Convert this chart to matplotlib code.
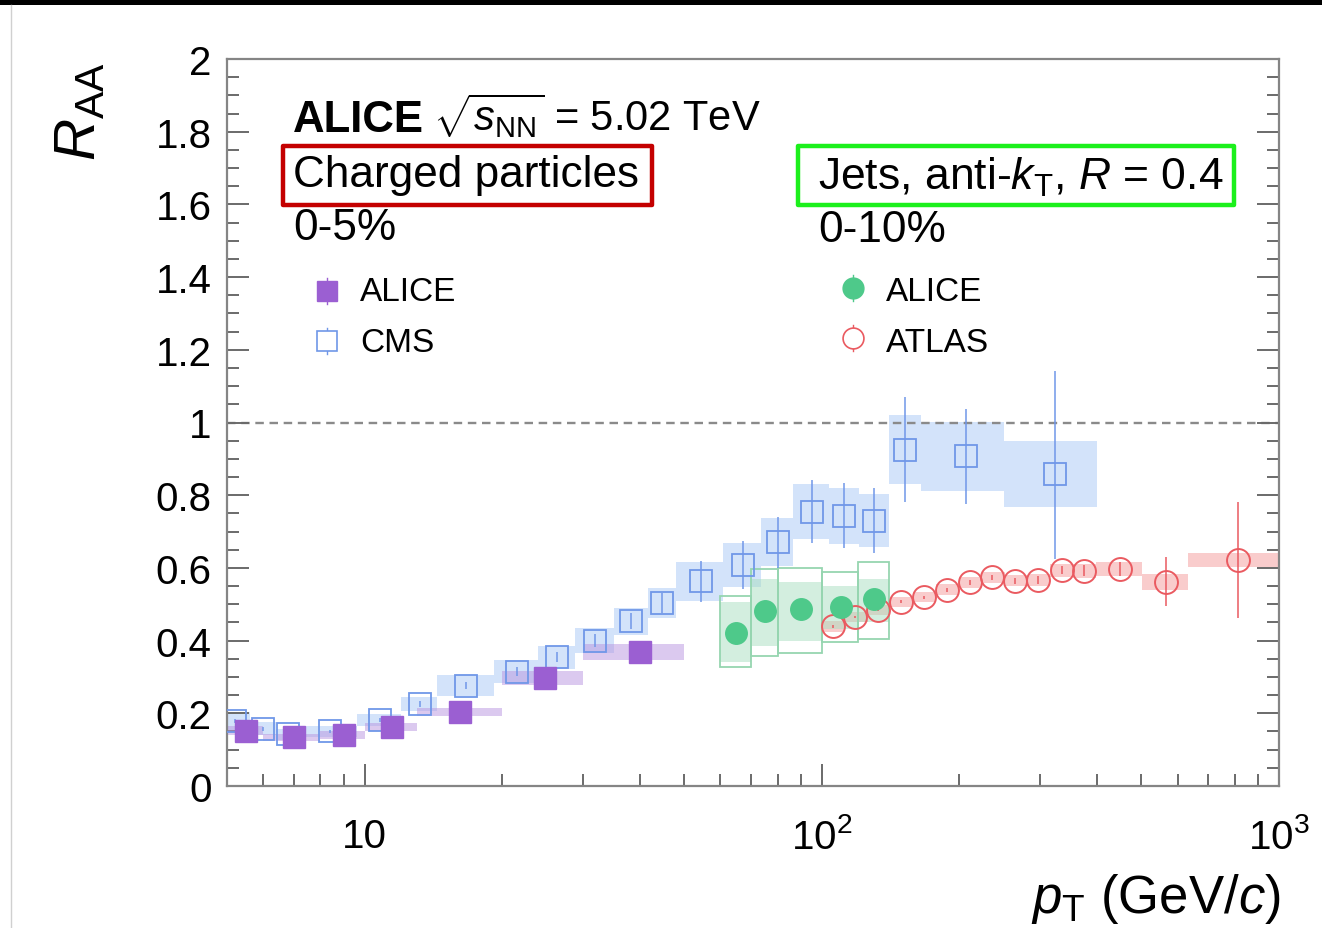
import matplotlib
matplotlib.use("Agg")
import matplotlib.pyplot as plt
from matplotlib.patches import Rectangle
from matplotlib.lines import Line2D
from matplotlib.ticker import FixedLocator, MultipleLocator, NullFormatter
import numpy as np

plt.rcParams['font.family'] = ['Liberation Sans', 'DejaVu Sans']
plt.rcParams['mathtext.fontset'] = 'custom'
plt.rcParams['mathtext.rm'] = 'Liberation Sans'
plt.rcParams['mathtext.it'] = 'Liberation Sans:italic'
plt.rcParams['mathtext.bf'] = 'Liberation Sans:bold'

# ---------------- data ----------------
# ALICE charged particles 0-5%
alice_ch_pt = [5.5, 7.0, 9.0, 11.5, 16.2, 24.8, 40.0]
alice_ch_raa = [0.152, 0.134, 0.140, 0.163, 0.204, 0.297, 0.369]
alice_ch_edges = [5, 6, 8, 10, 13, 20, 30, 50]
alice_ch_sys = [0.012, 0.010, 0.010, 0.011, 0.011, 0.018, 0.023]

# CMS charged particles 0-5%
cms_pt = [5.2, 6.0, 6.8, 8.4, 10.8, 13.2, 16.7, 21.5, 26.3, 31.9, 38.3, 44.7,
          54.5, 67.4, 80.4, 95, 112, 130, 152, 207, 324]
cms_raa = [0.178, 0.157, 0.142, 0.150, 0.182, 0.226, 0.276, 0.314, 0.354, 0.400,
           0.453, 0.503, 0.563, 0.608, 0.670, 0.755, 0.744, 0.730, 0.925, 0.907, 0.858]
cms_edges = [4.8, 5.6, 6.4, 7.2, 9.6, 12.0, 14.4, 19.2, 24.0, 28.8, 35.2, 41.6,
             48.0, 60.8, 73.6, 86.4, 103.6, 120.8, 140.0, 165.0, 250.0, 400.0]
cms_stat_lo = [0.005, 0.005, 0.005, 0.005, 0.006, 0.008, 0.010, 0.012, 0.014, 0.018,
               0.022, 0.028, 0.057, 0.066, 0.071, 0.087, 0.090, 0.090, 0.145, 0.130, 0.234]
cms_stat_hi = [0.005, 0.005, 0.005, 0.005, 0.006, 0.008, 0.010, 0.012, 0.014, 0.018,
               0.022, 0.028, 0.057, 0.066, 0.071, 0.087, 0.090, 0.090, 0.145, 0.130, 0.284]
cms_sys = [0.025, 0.018, 0.016, 0.016, 0.017, 0.020, 0.028, 0.032, 0.032, 0.035, 0.037,
           0.042, 0.054, 0.060, 0.066, 0.075, 0.077, 0.073, 0.095, 0.095, 0.090]

# ALICE jets 0-10%
jet_pt = [65, 75, 90, 110, 130]
jet_raa = [0.421, 0.482, 0.487, 0.493, 0.514]
jet_edges = [60, 70, 80, 100, 120, 140]
jet_shape_lo = [0.326, 0.358, 0.367, 0.396, 0.404]
jet_shape_hi = [0.523, 0.597, 0.600, 0.588, 0.617]
jet_corr_lo = [0.340, 0.386, 0.400, 0.432, 0.450]
jet_corr_hi = [0.505, 0.569, 0.561, 0.551, 0.570]

# ATLAS jets 0-10%
atlas_pt = [106, 118, 133, 149, 167, 188, 211, 236, 265, 297, 335, 375, 449, 565, 813]
atlas_raa = [0.439, 0.465, 0.485, 0.507, 0.519, 0.540, 0.560, 0.574, 0.565, 0.567,
             0.594, 0.592, 0.597, 0.562, 0.622]
atlas_edges = [100, 112, 126, 141, 158, 178, 200, 224, 251, 282, 316, 355, 398, 501, 631, 1000]
atlas_stat = [0.004, 0.004, 0.004, 0.004, 0.005, 0.005, 0.006, 0.007, 0.008, 0.010,
              0.012, 0.015, 0.020, 0.067, 0.160]
atlas_sys = [0.014, 0.014, 0.014, 0.014, 0.014, 0.015, 0.015, 0.016, 0.016, 0.017,
             0.018, 0.019, 0.020, 0.022, 0.020]

x_ticks = [10, 100, 1000]
x_ticklabels = ['10', r'$10^{2}$', r'$10^{3}$']
y_ticks = [0, 0.2, 0.4, 0.6, 0.8, 1, 1.2, 1.4, 1.6, 1.8, 2]
y_ticklabels = ['0', '0.2', '0.4', '0.6', '0.8', '1', '1.2', '1.4', '1.6', '1.8', '2']

# ---------------- colours ----------------
C_PURPLE = '#9b5fd2'
C_PURPLE_SYS = '#b894e0'
C_BLUE = '#7097e8'
C_BLUE_SYS = '#a9c8f6'
C_GREEN = '#4ec98a'
C_GREEN_SYS = '#a9dfc0'
C_GREEN_EDGE = '#96d5b0'
C_RED = '#ea5a60'
C_RED_SYS = '#f49a9a'

W, H = 1322, 929
fig = plt.figure(figsize=(W / 100, H / 100), dpi=100)
def fx(p): return p / W
def fy(p): return 1 - p / H

ax = fig.add_axes([fx(227), fy(787), fx(1279) - fx(227), (787 - 60) / H])
ax.set_xscale('log')
ax.set_xlim(5, 1000)
ax.set_ylim(0, 2)

def boxes(edges, lo, hi, **kw):
    e = np.asarray(edges, float)
    lo = np.asarray(lo, float); hi = np.asarray(hi, float)
    ax.bar(e[:-1], hi - lo, width=np.diff(e), bottom=lo, align='edge', **kw)

# systematic boxes
cms_r = np.asarray(cms_raa); cms_s = np.asarray(cms_sys)
boxes(cms_edges, cms_r - cms_s, cms_r + cms_s, color=C_BLUE_SYS, alpha=0.5,
      linewidth=0, zorder=1)
ach_r = np.asarray(alice_ch_raa); ach_s = np.asarray(alice_ch_sys)
boxes(alice_ch_edges, ach_r - ach_s, ach_r + ach_s, color=C_PURPLE_SYS, alpha=0.5,
      linewidth=0, zorder=2)
at_r = np.asarray(atlas_raa); at_s = np.asarray(atlas_sys)
boxes(atlas_edges, at_r - at_s, at_r + at_s, color=C_RED_SYS, alpha=0.5,
      linewidth=0, zorder=2)
boxes(jet_edges, jet_corr_lo, jet_corr_hi, color=C_GREEN_SYS, alpha=0.5,
      linewidth=0, zorder=2)
boxes(jet_edges, jet_shape_lo, jet_shape_hi, facecolor='none', edgecolor=C_GREEN_EDGE,
      linewidth=1.3, zorder=3)

ax.axhline(1.0, color='#8a8a8a', lw=1.7, ls=(0, (3.6, 2.4)), zorder=1.5)

# points
ax.errorbar(cms_pt, cms_raa, yerr=[cms_stat_lo, cms_stat_hi], fmt='s', ms=16.5,
            mfc='none', mec=C_BLUE, mew=1.3, ecolor=C_BLUE, elinewidth=1.1,
            capsize=0, zorder=4)
ax.errorbar(atlas_pt, atlas_raa, yerr=atlas_stat, fmt='o', ms=16.5,
            mfc='none', mec=C_RED, mew=1.4, ecolor=C_RED, elinewidth=1.1,
            capsize=0, zorder=4)
ax.plot(alice_ch_pt, alice_ch_raa, 's', ms=16, color=C_PURPLE, mec=C_PURPLE, zorder=5)
ax.plot(jet_pt, jet_raa, 'o', ms=15.5, color=C_GREEN, mec=C_GREEN, zorder=5)

# axes styling
for s in ax.spines.values():
    s.set_color('#858585')
    s.set_linewidth(1.6)
ax.xaxis.set_major_locator(FixedLocator(x_ticks))
ax.set_xticklabels(x_ticklabels)
ax.xaxis.set_minor_locator(FixedLocator([6, 7, 8, 9, 20, 30, 40, 50, 60, 70, 80, 90,
                                         200, 300, 400, 500, 600, 700, 800, 900]))
ax.xaxis.set_minor_formatter(NullFormatter())
ax.yaxis.set_major_locator(FixedLocator(y_ticks))
ax.set_yticklabels(y_ticklabels)
ax.yaxis.set_minor_locator(MultipleLocator(0.05))
ax.tick_params(axis='both', which='both', direction='in', color='#6a6a6a', width=1.4)
ax.tick_params(axis='both', which='major', length=15.5, labelsize=29)
ax.tick_params(axis='both', which='minor', length=8.5)
ax.tick_params(axis='x', which='both', top=False, bottom=True, pad=22)
ax.tick_params(axis='y', which='both', left=True, right=True, pad=11)

# axis titles
fig.text(fx(80), fy(62), r'$R_{\mathrm{AA}}$', rotation=90, ha='center', va='top', fontsize=42)
fig.text(fx(1281), fy(913), r'$p_{\mathrm{T}}$ (GeV/$c$)', ha='right', va='baseline', fontsize=38)

# header texts
fig.text(fx(293), fy(131.5), 'ALICE', fontweight='bold', fontsize=31.5, va='baseline')
fig.text(fx(433), fy(131.5), r'$\sqrt{s_{\mathrm{NN}}}$ = 5.02 TeV', fontsize=30, va='baseline')
fig.text(fx(293), fy(187), 'Charged particles', fontsize=31.8, va='baseline')
fig.text(fx(293), fy(240), '0-5%', fontsize=31.8, va='baseline')
fig.text(fx(818), fy(190), r'Jets, anti-$k_{\mathrm{T}}$, $R$ = 0.4', fontsize=32, va='baseline')
fig.text(fx(818), fy(242), '0-10%', fontsize=31.8, va='baseline')

fig.add_artist(Rectangle((fx(283), fy(206)), fx(652) - fx(283), 59 / H, transform=fig.transFigure,
                         fill=False, edgecolor='#c40000', linewidth=3.2, joinstyle='round'))
fig.add_artist(Rectangle((fx(798), fy(206)), fx(1234) - fx(798), 59 / H, transform=fig.transFigure,
                         fill=False, edgecolor='#1cf01c', linewidth=3.2, joinstyle='round'))

# legends
def leg_marker(xp, yp, **kw):
    fig.add_artist(Line2D([fx(xp), fx(xp)], [fy(yp - 13), fy(yp + 13)], transform=fig.transFigure,
                          color=kw.get('mec'), lw=1.0))
    fig.add_artist(Line2D([fx(xp)], [fy(yp)], transform=fig.transFigure, linestyle='none', **kw))

leg_marker(326.7, 291.7, marker='s', ms=14.5, mfc=C_PURPLE, mec=C_PURPLE)
leg_marker(326.7, 341.7, marker='s', ms=14.5, mfc='white', mec=C_BLUE, mew=1.2)
leg_marker(852.7, 289.3, marker='o', ms=15, mfc=C_GREEN, mec=C_GREEN)
leg_marker(852.7, 339.3, marker='o', ms=15, mfc='white', mec=C_RED, mew=1.2)
fig.text(fx(360), fy(301), 'ALICE', fontsize=24, va='baseline')
fig.text(fx(360), fy(352), 'CMS', fontsize=24, va='baseline')
fig.text(fx(886), fy(301), 'ALICE', fontsize=24, va='baseline')
fig.text(fx(886), fy(352), 'ATLAS', fontsize=24, va='baseline')

# frame decorations of the screenshot
fig.add_artist(Rectangle((0, fy(6)), 1, 6 / H, transform=fig.transFigure, color='black', lw=0))
fig.add_artist(Line2D([fx(10.5), fx(10.5)], [0, fy(6)], transform=fig.transFigure,
                      color='#d0d0d0', lw=1.0))

fig.savefig('out.png', dpi=100)
